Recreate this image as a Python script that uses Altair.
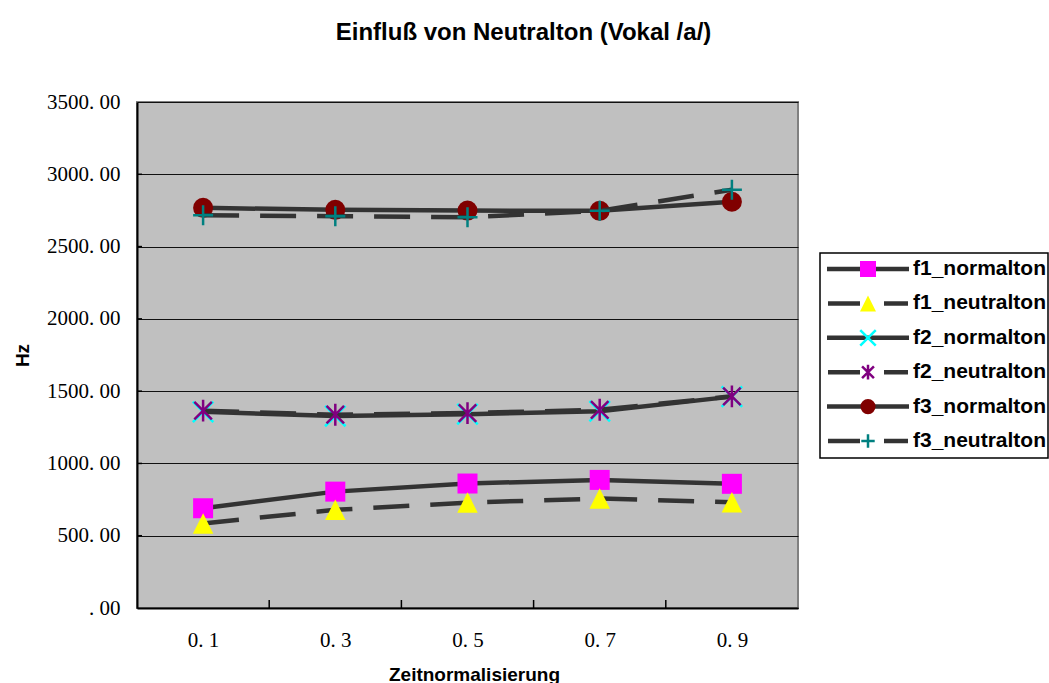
import altair as alt
import pandas as pd

# ---- data ----
x_vals = [0.1, 0.3, 0.5, 0.7, 0.9]
band_edges = [0.2, 0.4, 0.6, 0.8]
y_ticks = [0, 500, 1000, 1500, 2000, 2500, 3000, 3500]

series_names = ["f1_normalton", "f1_neutralton", "f2_normalton",
                "f2_neutralton", "f3_normalton", "f3_neutralton"]
f1_normalton = [690, 805, 861, 886, 859]
f1_neutralton = [585, 679, 729, 757, 731]
f2_normalton = [1357, 1328, 1341, 1361, 1462]
f2_neutralton = [1365, 1337, 1348, 1371, 1464]
f3_normalton = [2768, 2754, 2749, 2747, 2810]
f3_neutralton = [2717, 2710, 2703, 2747, 2893]
series_values = [f1_normalton, f1_neutralton, f2_normalton,
                 f2_neutralton, f3_normalton, f3_neutralton]

# ---- styles ----
series_dashed = [False, True, False, True, False, True]
series_colors = ["#ff00ff", "#ffff00", "#00ffff", "#800080", "#800000", "#008080"]
TRI = "M0,-1L1,1L-1,1Z"
XSHAPE = "M-1,-1L1,1M-1,1L1,-1"
STAR = "M-0.8,-0.8L0.8,0.8M-0.8,0.8L0.8,-0.8M0,-1L0,1"
PLUS = "M-1,0L1,0M0,-1L0,1"
series_shapes = ["square", TRI, XSHAPE, STAR, "circle", PLUS]
series_filled = [True, True, False, False, True, False]
series_size = [400, 420, 420, 480, 400, 400]
legend_size = [256, 256, 240, 220, 230, 180]
LINE_COLOR = "#333333"
DASH = [36, 21]

W, H = 661, 506

xenc = alt.X(
    "t:Q",
    scale=alt.Scale(domain=[0, 1], nice=False, zero=False),
    axis=alt.Axis(
        values=x_vals,
        labelExpr="replace(format(datum.value, '.1f'), '.', '. ')",
        labelFont="Liberation Serif", labelFontSize=21, labelColor="black",
        labelPadding=21, ticks=False, grid=False,
        domain=True, domainColor="black", domainWidth=2,
        title="Zeitnormalisierung", titleFont="Liberation Sans",
        titleFontSize=19, titleFontWeight="bold", titleColor="black",
        titleX=337, titleY=57, titleBaseline="top", titleAlign="center",
    ),
)
yenc = alt.Y(
    "hz:Q",
    scale=alt.Scale(domain=[0, 3500], nice=False),
    axis=alt.Axis(
        values=y_ticks,
        labelExpr="datum.value == 0 ? '. 00' : format(datum.value, 'd') + '. 00'",
        labelFont="Liberation Serif", labelFontSize=21, labelColor="black",
        labelPadding=17, ticks=False,
        grid=True, gridColor="#111111", gridWidth=1,
        domain=True, domainColor="black", domainWidth=2,
        title="Hz", titleFont="Liberation Sans", titleFontSize=19,
        titleFontWeight="bold", titleColor="black",
        titleX=-115, titleY=253, titleAngle=270,
        titleBaseline="middle", titleAlign="center",
    ),
)

data_layers = []
# inner tick marks
xt = pd.DataFrame({"t": band_edges})
data_layers.append(
    alt.Chart(xt).mark_rule(color="black", strokeWidth=1.5).encode(
        x=xenc, y=alt.value(H - 8), y2=alt.value(H))
)
yt = pd.DataFrame({"hz": y_ticks[1:-1]})
data_layers.append(
    alt.Chart(yt).mark_rule(color="black", strokeWidth=1.5).encode(
        y=yenc, x=alt.value(0), x2=alt.value(5))
)

for i, name in enumerate(series_names):
    df = pd.DataFrame({"t": x_vals, "hz": series_values[i], "series": name})
    line_kw = dict(color=LINE_COLOR, strokeWidth=4.5)
    if series_dashed[i]:
        line_kw["strokeDash"] = DASH
    data_layers.append(alt.Chart(df).mark_line(**line_kw).encode(x=xenc, y=yenc))
    pt_kw = dict(shape=series_shapes[i], size=series_size[i], opacity=1)
    if series_filled[i]:
        pt_kw.update(filled=True, fill=series_colors[i], strokeWidth=0)
    else:
        pt_kw.update(filled=False, stroke=series_colors[i], strokeWidth=2.5)
    data_layers.append(alt.Chart(df).mark_point(**pt_kw).encode(x=xenc, y=yenc))

main = alt.layer(*data_layers)

# ---- legend ----
leg_df = pd.DataFrame({"series": series_names})
leg_y = alt.Y("series:N",
              scale=alt.Scale(type="point", domain=series_names,
                              range=[167, 339], padding=0),
              axis=None)
legend_layers = [
    alt.Chart(pd.DataFrame({"series": [series_names[0]]})).mark_rect(
        fill="white", stroke="black", strokeWidth=1.5).encode(
        x=alt.value(683), x2=alt.value(911), y=alt.value(151), y2=alt.value(356))
]
for i, name in enumerate(series_names):
    d = pd.DataFrame({"series": [name]})
    if series_dashed[i]:
        legend_layers.append(alt.Chart(d).mark_rule(
            color=LINE_COLOR, strokeWidth=4.5, strokeDash=[32, 24]).encode(
            y=leg_y, x=alt.value(691), x2=alt.value(771)))
    else:
        legend_layers.append(alt.Chart(d).mark_rule(
            color=LINE_COLOR, strokeWidth=4.5).encode(
            y=leg_y, x=alt.value(690), x2=alt.value(772)))
    pt_kw = dict(shape=series_shapes[i], size=legend_size[i], opacity=1)
    if series_filled[i]:
        pt_kw.update(filled=True, fill=series_colors[i], strokeWidth=0)
    else:
        pt_kw.update(filled=False, stroke=series_colors[i], strokeWidth=2.5)
    legend_layers.append(alt.Chart(d).mark_point(**pt_kw).encode(
        y=leg_y, x=alt.value(731)))
legend_layers.append(alt.Chart(leg_df).mark_text(
    align="left", baseline="middle", font="Liberation Sans",
    fontWeight="bold", fontSize=21, color="black").encode(
    y=leg_y, x=alt.value(776), text="series:N"))
legend = alt.layer(*legend_layers)

chart = alt.layer(main, legend).resolve_scale(y="independent").properties(
    width=W, height=H,
    autosize="none",
    padding={"left": 137, "top": 102, "right": 251, "bottom": 75},
    background="white",
    title=alt.TitleParams(
        "Einfluß von Neutralton (Vokal /a/)",
        font="Liberation Sans", fontSize=24, fontWeight="bold", color="black",
        anchor="middle", frame="group", dx=56, offset=46,
    ),
).configure_view(fill="#c0c0c0", stroke="#808080", strokeWidth=2)

chart.save("out.html", embed_options={"renderer": "svg", "actions": False})
